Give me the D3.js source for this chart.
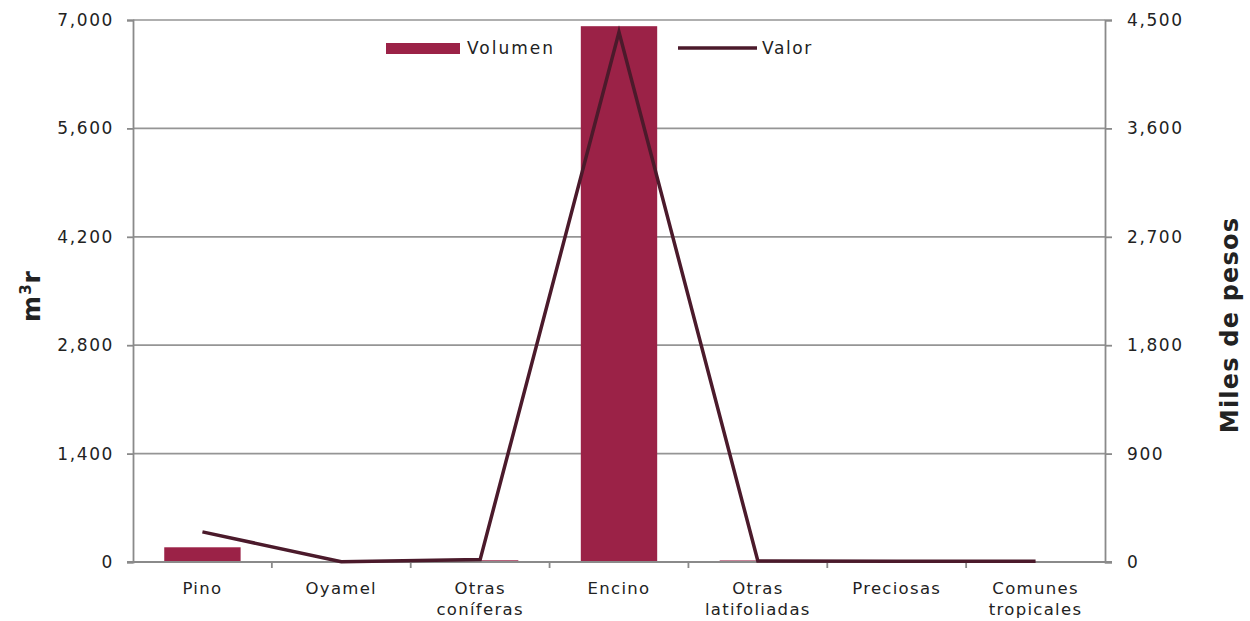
<!DOCTYPE html>
<html><head><meta charset="utf-8">
<script src="https://cdn.jsdelivr.net/npm/d3@7"></script>
<style>
body{margin:0;background:#fff;}
text{font-family:"DejaVu Sans",sans-serif;fill:#222;}
</style></head>
<body><svg id="c" width="1250" height="621"></svg>
<script>
const categories = [["Pino"],["Oyamel"],["Otras","coníferas"],["Encino"],["Otras","latifoliadas"],["Preciosas"],["Comunes","tropicales"]];
const volumen = [190, 4, 22, 6920, 20, 3, 3];
const valor = [250, 3, 20, 4400, 8, 6, 6];
const leftTicks = [0,1400,2800,4200,5600,7000];
const rightTicks = [0,900,1800,2700,3600,4500];

const svg = d3.select("#c");
const L=133, R=1105, T=20, B=562;
const keys = categories.map((c,i)=>i);
const x = d3.scaleBand().domain(keys).range([L,R]).paddingInner(0.45).paddingOuter(0.225);
const xb = d3.scaleBand().domain(keys).range([L,R]);
const yL = d3.scaleLinear().domain([0,7000]).range([B,T]);
const yR = d3.scaleLinear().domain([0,4500]).range([B,T]);
const fmt = d3.format(",");
const LS = "1.6px";

// grid
svg.append("g").selectAll("line").data(leftTicks.filter(d=>d>0)).join("line")
  .attr("x1",L).attr("x2",R).attr("y1",d=>yL(d)).attr("y2",d=>yL(d))
  .attr("stroke","#959595").attr("stroke-width",1.7);

// bars
svg.append("g").selectAll("rect").data(volumen).join("rect")
  .attr("x",(d,i)=>x(i)).attr("width",x.bandwidth())
  .attr("y",d=>yL(d)).attr("height",d=>B-yL(d)).attr("fill","#9b2247");

// axes
const ga = svg.append("g").attr("transform",`translate(${L},0)`)
  .call(d3.axisLeft(yL).tickValues(leftTicks).tickFormat(fmt).tickSize(6).tickPadding(13));
const gr = svg.append("g").attr("transform",`translate(${R},0)`)
  .call(d3.axisRight(yR).tickValues(rightTicks).tickFormat(fmt).tickSize(7).tickPadding(15));
const gx = svg.append("g").attr("transform",`translate(0,${B})`)
  .call(d3.axisBottom(xb).tickValues(d3.range(1,7)).tickFormat("").tickSize(6));
gx.selectAll(".tick").attr("transform",d=>`translate(${xb(d)},0)`);
[ga,gr,gx].forEach(g=>{
  g.select(".domain").attr("stroke","#8a8a8a").attr("stroke-width",1.8);
  g.selectAll(".tick line").attr("stroke","#8a8a8a").attr("stroke-width",1.8);
  g.selectAll(".tick text").attr("font-size",17).attr("fill","#222").attr("font-family","DejaVu Sans").style("letter-spacing",LS);
});
gx.select(".domain").attr("d",`M${L-6},0H${R+7}`);

// x labels
const xl = svg.append("g").selectAll("text").data(categories).join("text")
  .attr("x",(d,i)=>xb(i)+xb.bandwidth()/2).attr("y",594)
  .attr("text-anchor","middle").attr("font-size",16.5).style("letter-spacing","1.3px");
xl.selectAll("tspan").data(d=>d).join("tspan")
  .attr("x",function(){return this.parentNode.getAttribute("x");})
  .attr("dy",(d,i)=>i?21:0).text(d=>d);

// line
const line = d3.line().x((d,i)=>xb(i)+xb.bandwidth()/2).y(d=>yR(d));
svg.append("path").datum(valor).attr("d",line).attr("fill","none")
  .attr("stroke","#4b1a2b").attr("stroke-width",3.5).attr("stroke-linejoin","miter");

// legend
svg.append("rect").attr("x",386).attr("y",43).attr("width",74).attr("height",11).attr("fill","#9b2247");
svg.append("text").attr("x",467).attr("y",54).attr("font-size",17).style("letter-spacing","2px").text("Volumen");
svg.append("line").attr("x1",678).attr("x2",757).attr("y1",48).attr("y2",48).attr("stroke","#4b1a2b").attr("stroke-width",3.5);
svg.append("text").attr("x",762).attr("y",54).attr("font-size",17).style("letter-spacing",LS).text("Valor");

// axis titles
svg.append("text").attr("transform","translate(40,296) rotate(-90)").attr("text-anchor","middle")
  .attr("font-size",25).attr("font-weight","bold").style("letter-spacing","1px").html('m<tspan baseline-shift="super" font-size="15">3</tspan>r');
svg.append("text").attr("transform","translate(1238,325) rotate(-90)").attr("text-anchor","middle")
  .attr("font-size",24).attr("font-weight","bold").style("letter-spacing","1.2px").text("Miles de pesos");
</script></body></html>
